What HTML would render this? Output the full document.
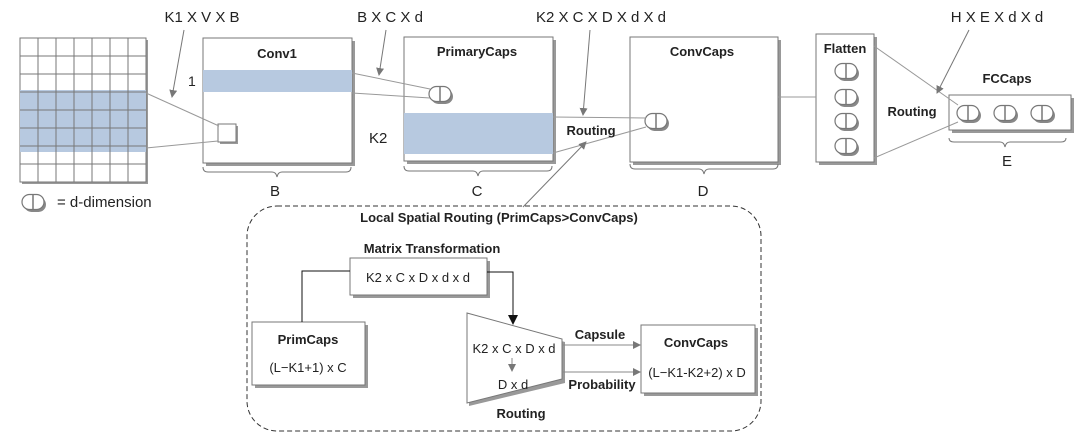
<!DOCTYPE html>
<html><head><meta charset="utf-8"><style>
html,body{margin:0;padding:0;background:#fff;width:1080px;height:440px;overflow:hidden}
svg{display:block}
text{font-family:"Liberation Sans",Arial,sans-serif;fill:#222}
.b{font-weight:bold}
</style></head><body>
<svg width="1080" height="440" viewBox="0 0 1080 440" xmlns="http://www.w3.org/2000/svg">
<defs>
<marker id="ah" markerWidth="8" markerHeight="8" refX="7" refY="4" orient="auto" markerUnits="userSpaceOnUse"><path d="M0,0 L8,4 L0,8 z" fill="#777"/></marker>
<marker id="ahb" markerWidth="10" markerHeight="10" refX="9" refY="5" orient="auto" markerUnits="userSpaceOnUse"><path d="M0,0 L10,5 L0,10 z" fill="#111"/></marker>
<g id="cap">
<rect x="-9" y="-5" width="22" height="15" rx="7.5" fill="#888"/>
<rect x="-11" y="-7.5" width="22" height="15" rx="7.5" fill="#fff" stroke="#777" stroke-width="1.2"/>
<line x1="0" y1="-7" x2="0" y2="7" stroke="#777" stroke-width="1.5"/>
</g>
</defs>

<!-- grid -->
<rect x="22" y="40" width="126" height="144" fill="#999"/>
<rect x="20" y="38" width="126" height="144" fill="#fff" stroke="#777"/>
<rect x="20" y="90" width="126" height="62" fill="#b7c9e0"/>
<g stroke="#777" stroke-width="1">
<line x1="38" y1="38" x2="38" y2="182"/><line x1="56" y1="38" x2="56" y2="182"/><line x1="74" y1="38" x2="74" y2="182"/><line x1="92" y1="38" x2="92" y2="182"/><line x1="110" y1="38" x2="110" y2="182"/><line x1="128" y1="38" x2="128" y2="182"/>
<line x1="20" y1="56" x2="146" y2="56"/><line x1="20" y1="74" x2="146" y2="74"/><line x1="20" y1="92" x2="146" y2="92"/><line x1="20" y1="110" x2="146" y2="110"/><line x1="20" y1="128" x2="146" y2="128"/><line x1="20" y1="146" x2="146" y2="146"/><line x1="20" y1="164" x2="146" y2="164"/>
</g>
<use href="#cap" x="33" y="202"/>
<text x="57" y="207" font-size="15">= d-dimension</text>

<!-- Conv1 -->
<rect x="206" y="41" width="149" height="125" fill="#999"/>
<rect x="203" y="38" width="149" height="125" fill="#fff" stroke="#777"/>
<rect x="203" y="70" width="149" height="22" fill="#b7c9e0"/>
<text x="277" y="58" font-size="13" class="b" text-anchor="middle">Conv1</text>
<text x="188" y="86" font-size="14">1</text>
<rect x="220" y="126" width="18" height="18" fill="#999"/>
<rect x="218" y="124" width="18" height="18" fill="#fff" stroke="#777"/>
<path d="M203,167 q0,5 5,5 h64 q4,0 5,5 q1,-5 5,-5 h64 q5,0 5,-5" fill="none" stroke="#777"/>
<text x="275" y="196" font-size="15" text-anchor="middle">B</text>

<!-- PrimaryCaps -->
<rect x="407" y="40" width="149" height="124" fill="#999"/>
<rect x="404" y="37" width="149" height="124" fill="#fff" stroke="#777"/>
<rect x="404" y="113" width="149" height="41" fill="#b7c9e0"/>
<text x="477" y="56" font-size="13" class="b" text-anchor="middle">PrimaryCaps</text>
<text x="369" y="143" font-size="15">K2</text>
<use href="#cap" x="440" y="94"/>
<path d="M404,166 q0,5 5,5 h64 q4,0 5,5 q1,-5 5,-5 h64 q5,0 5,-5" fill="none" stroke="#777"/>
<text x="477" y="196" font-size="15" text-anchor="middle">C</text>

<!-- ConvCaps -->
<rect x="633" y="40" width="148" height="125" fill="#999"/>
<rect x="630" y="37" width="148" height="125" fill="#fff" stroke="#777"/>
<text x="702" y="56" font-size="13" class="b" text-anchor="middle">ConvCaps</text>
<use href="#cap" x="656" y="121"/>
<path d="M630,164 q0,5 5,5 h64 q4,0 5,5 q1,-5 5,-5 h64 q5,0 5,-5" fill="none" stroke="#777"/>
<text x="703" y="196" font-size="15" text-anchor="middle">D</text>

<!-- Flatten -->
<rect x="819" y="37" width="58" height="128" fill="#999"/>
<rect x="816" y="34" width="58" height="128" fill="#fff" stroke="#777"/>
<text x="845" y="53" font-size="13" class="b" text-anchor="middle">Flatten</text>
<use href="#cap" x="846" y="71"/>
<use href="#cap" x="846" y="97"/>
<use href="#cap" x="846" y="121"/>
<use href="#cap" x="846" y="146"/>

<!-- FCCaps -->
<rect x="952" y="98" width="122" height="35" fill="#999"/>
<rect x="949" y="95" width="122" height="35" fill="#fff" stroke="#777"/>
<text x="1007" y="83" font-size="13" class="b" text-anchor="middle">FCCaps</text>
<use href="#cap" x="968" y="113"/>
<use href="#cap" x="1005" y="113"/>
<use href="#cap" x="1042" y="113"/>
<path d="M949,138 q0,4 5,4 h46 q4,0 5,5 q1,-5 5,-5 h51 q5,0 5,-4" fill="none" stroke="#777"/>
<text x="1007" y="166" font-size="15" text-anchor="middle">E</text>

<!-- connector lines -->
<g stroke="#999" stroke-width="1" fill="none">
<line x1="146" y1="93" x2="219" y2="126"/>
<line x1="146" y1="148" x2="218" y2="141"/>
<line x1="352" y1="73" x2="430" y2="89"/>
<line x1="352" y1="93" x2="430" y2="98"/>
<line x1="553" y1="117" x2="646" y2="118"/>
<line x1="553" y1="153" x2="646" y2="127"/>
<line x1="778" y1="97" x2="816" y2="97"/>
<line x1="874" y1="46" x2="958" y2="105"/>
<line x1="874" y1="158" x2="958" y2="122"/>
</g>
<g stroke="#777" stroke-width="1" fill="none">
<line x1="184" y1="30" x2="172" y2="97" marker-end="url(#ah)"/>
<line x1="386" y1="30" x2="379" y2="75" marker-end="url(#ah)"/>
<line x1="590" y1="30" x2="583" y2="115" marker-end="url(#ah)"/>
<line x1="969" y1="30" x2="937" y2="93" marker-end="url(#ah)"/>
<line x1="523" y1="207" x2="586" y2="142" marker-end="url(#ah)"/>
</g>
<text x="202" y="22" font-size="15" text-anchor="middle">K1 X V X B</text>
<text x="390" y="22" font-size="15" text-anchor="middle">B X C X d</text>
<text x="601" y="22" font-size="15" text-anchor="middle">K2 X C X D X d X d</text>
<text x="997" y="22" font-size="15" text-anchor="middle">H X E X d X d</text>
<text x="591" y="135" font-size="13" class="b" text-anchor="middle">Routing</text>
<text x="912" y="116" font-size="13" class="b" text-anchor="middle">Routing</text>

<!-- dashed box -->
<rect x="247" y="206" width="514" height="225" rx="30" fill="none" stroke="#333" stroke-dasharray="5,3"/>
<text x="499" y="222" font-size="13" class="b" text-anchor="middle">Local Spatial Routing (PrimCaps&gt;ConvCaps)</text>
<text x="432" y="253" font-size="13" class="b" text-anchor="middle">Matrix Transformation</text>
<rect x="353" y="261" width="137" height="37" fill="#999"/>
<rect x="350" y="258" width="137" height="37" fill="#fff" stroke="#777"/>
<text x="418" y="282" font-size="13" text-anchor="middle">K2 x C x D x d x d</text>
<rect x="255" y="325" width="113" height="63" fill="#999"/>
<rect x="252" y="322" width="113" height="63" fill="#fff" stroke="#777"/>
<text x="308" y="344" font-size="13" class="b" text-anchor="middle">PrimCaps</text>
<text x="308" y="372" font-size="13" text-anchor="middle">(L−K1+1) x C</text>
<polyline points="302,322 302,271 350,271" fill="none" stroke="#111"/>
<polyline points="487,272 513,272 513,324" fill="none" stroke="#111" marker-end="url(#ahb)"/>
<polygon points="469,316 565,342 565,383 469,406" fill="#999"/>
<polygon points="467,313 562,339 562,379 467,403" fill="#fff" stroke="#777"/>
<text x="514" y="353" font-size="13" text-anchor="middle">K2 x C x D x d</text>
<line x1="512" y1="358" x2="512" y2="371" stroke="#888" marker-end="url(#ah)"/>
<text x="513" y="389" font-size="13" text-anchor="middle">D x d</text>
<text x="521" y="418" font-size="13" class="b" text-anchor="middle">Routing</text>
<line x1="562" y1="345" x2="640" y2="345" stroke="#888" marker-end="url(#ah)"/>
<line x1="562" y1="372" x2="640" y2="372" stroke="#888" marker-end="url(#ah)"/>
<text x="600" y="339" font-size="13" class="b" text-anchor="middle">Capsule</text>
<text x="602" y="389" font-size="13" class="b" text-anchor="middle">Probability</text>
<rect x="644" y="328" width="114" height="68" fill="#999"/>
<rect x="641" y="325" width="114" height="68" fill="#fff" stroke="#777"/>
<text x="696" y="347" font-size="13" class="b" text-anchor="middle">ConvCaps</text>
<text x="697" y="377" font-size="13" text-anchor="middle">(L−K1-K2+2) x D</text>
</svg>
</body></html>
